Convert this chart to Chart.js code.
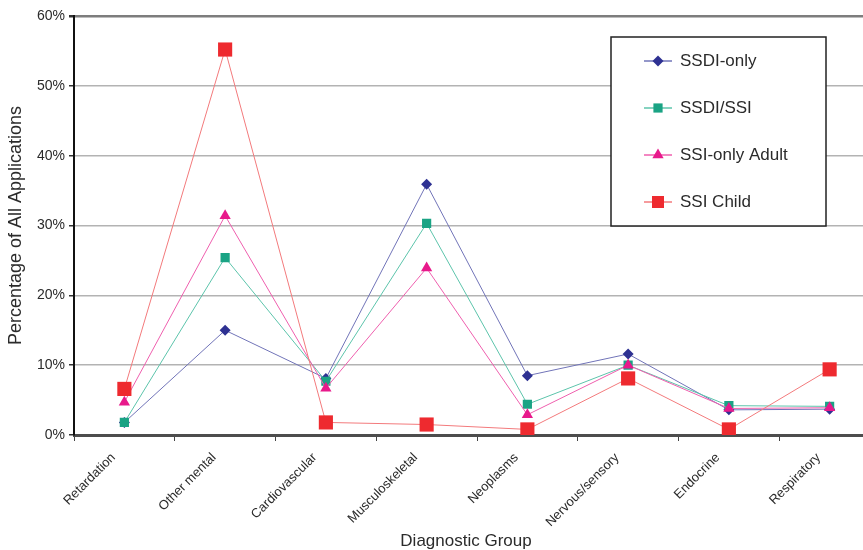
<!DOCTYPE html>
<html>
<head>
<meta charset="utf-8">
<script src="https://cdn.jsdelivr.net/npm/chart.js@4/dist/chart.umd.min.js"></script>
<style>
  html, body { margin: 0; padding: 0; background: #fff; overflow: hidden; }
  #wrap { position: relative; width: 863px; height: 550px; overflow: hidden; }
  #box { position: absolute; left: 0; top: 0; width: 890px; height: 550px; }
</style>
</head>
<body>
<div id="wrap"><div id="box"><canvas id="c"></canvas></div></div>
<script>
// Diagnostic groups along the x axis
const categories = ['Retardation', 'Other mental', 'Cardiovascular', 'Musculoskeletal',
                    'Neoplasms', 'Nervous/sensory', 'Endocrine', 'Respiratory'];

// Share of all applications (%) by applicant type
const ssdiOnly  = [1.8, 15.0, 8.1, 35.9, 8.5, 11.6, 3.6, 3.7];
const ssdiSsi   = [1.8, 25.4, 7.7, 30.3, 4.4, 10.0, 4.2, 4.1];
const ssiAdult  = [4.7, 31.4, 6.7, 23.9, 2.9, 10.0, 3.8, 3.9];
const ssiChild  = [6.6, 55.2, 1.8, 1.5, 0.8, 8.1, 0.8, 9.4];

const seriesNames = ['SSDI-only', 'SSDI/SSI', 'SSI-only Adult', 'SSI Child'];
const yTickValues = [0, 10, 20, 30, 40, 50, 60];

const FONT = '"Liberation Sans", Arial, Helvetica, sans-serif';
const TEXT = '#2b2b2b';

function series(label, data, marker, line, style, radius, order) {
  return {
    label, data, order,
    borderColor: line,
    borderWidth: 1,
    backgroundColor: marker,
    pointBackgroundColor: marker,
    pointBorderColor: marker,
    pointBorderWidth: 0,
    pointStyle: style,
    pointRadius: radius,
    pointHoverRadius: radius,
    tension: 0,
    fill: false
  };
}

const datasets = [
  series(seriesNames[0], ssdiOnly, '#2e3192', '#7174b8', 'rectRot', 5.5, 4),
  series(seriesNames[1], ssdiSsi,  '#1aa384', '#5cc4ab', 'rect', 6.5, 3),
  series(seriesNames[2], ssiAdult, '#e8198b', '#ef5fae', 'triangle', 6.5, 2),
  series(seriesNames[3], ssiChild, '#ee2a2f', '#f37a7c', 'rect', 10, 1)
];

// Boxed legend drawn inside the plot area, plus the x-axis title
const overlay = {
  id: 'overlay',
  afterDraw(chart) {
    const ctx = chart.ctx;
    ctx.save();

    // x-axis title
    ctx.font = '17px ' + FONT;
    ctx.fillStyle = TEXT;
    ctx.textAlign = 'center';
    ctx.textBaseline = 'middle';
    ctx.fillText('Diagnostic Group', 466, 541);

    // legend box
    const bx = 611, by = 37, bw = 215, bh = 189;
    ctx.fillStyle = '#fff';
    ctx.fillRect(bx, by, bw, bh);
    ctx.strokeStyle = '#222';
    ctx.lineWidth = 1.5;
    ctx.strokeRect(bx, by, bw, bh);

    const rows = [61, 108, 155, 202];
    chart.data.datasets.forEach((ds, i) => {
      const y = rows[i];
      ctx.strokeStyle = ds.borderColor;
      ctx.lineWidth = 1.5;
      ctx.beginPath();
      ctx.moveTo(644, y);
      ctx.lineTo(672, y);
      ctx.stroke();
      ctx.fillStyle = ds.pointBackgroundColor;
      ctx.strokeStyle = ds.pointBorderColor;
      Chart.helpers.drawPoint(ctx, {
        pointStyle: ds.pointStyle,
        radius: ds.pointStyle === 'rect' && ds.pointRadius > 8 ? 8.5 : ds.pointRadius,
        rotation: 0,
        borderWidth: 0
      }, 658, y);
      ctx.fillStyle = TEXT;
      ctx.font = '17px ' + FONT;
      ctx.textAlign = 'left';
      ctx.textBaseline = 'middle';
      ctx.fillText(ds.label, 680, y);
    });
    ctx.restore();
  }
};

new Chart(document.getElementById('c'), {
  type: 'line',
  data: { labels: categories, datasets },
  options: {
    responsive: true,
    maintainAspectRatio: false,
    animation: false,
    devicePixelRatio: 1,
    layout: { padding: { top: 16, right: 6, left: 0, bottom: 0 } },
    plugins: { legend: { display: false }, tooltip: { enabled: false } },
    scales: {
      x: {
        type: 'category',
        offset: true,
        afterFit(scale) { scale.height = 115; },
        border: { display: true, color: '#4d4d4d', width: 3 },
        grid: { display: true, drawOnChartArea: false, drawTicks: true, tickLength: 6,
                tickColor: '#444', offset: true },
        ticks: { color: TEXT, font: { family: FONT, size: 13 }, minRotation: 45, maxRotation: 45,
                 padding: 9, autoSkip: false, labelOffset: -11 }
      },
      y: {
        min: 0, max: 60,
        afterFit(scale) { scale.width = 74; },
        afterBuildTicks(scale) { scale.ticks = yTickValues.map(v => ({ value: v })); },
        border: { display: true, color: '#111', width: 2 },
        grid: {
          color: c => (c.tick && c.tick.value === 60) ? '#7d7d7d' : '#b3b3b3',
          lineWidth: c => (c.tick && c.tick.value === 60) ? 2.5 : 1.5,
          tickLength: 5, tickColor: '#333', drawTicks: true
        },
        ticks: { color: TEXT, font: { family: FONT, size: 14 }, padding: 4,
                 callback: v => v + '%' },
        title: { display: true, text: 'Percentage of All Applications', color: TEXT,
                 font: { family: FONT, size: 18 }, padding: { top: 5, bottom: 0 } }
      }
    }
  },
  plugins: [overlay]
});
</script>
</body>
</html>
